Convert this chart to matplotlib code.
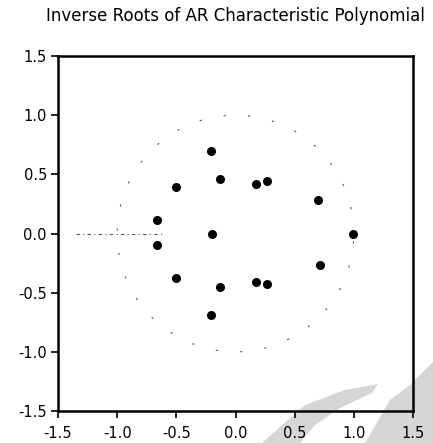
import numpy as np
import matplotlib.pyplot as plt
from matplotlib.patches import Polygon

# inverse AR roots (real, imaginary)
root_re = [-0.21, -0.21, -0.50, -0.50, -0.66, -0.66, -0.13, -0.13,
           0.17, 0.17, 0.27, 0.27, 0.70, 0.71, -0.20, 0.99]
root_im = [0.70, -0.69, 0.39, -0.38, 0.11, -0.10, 0.46, -0.45,
           0.42, -0.41, 0.44, -0.43, 0.28, -0.27, 0.00, 0.00]

ticks = [-1.5, -1.0, -0.5, 0.0, 0.5, 1.0, 1.5]
tick_labels = ['-1.5', '-1.0', '-0.5', '0.0', '0.5', '1.0', '1.5']

# leftover piece of the real axis guide
guide_x = [-1.35, -0.62]
guide_y = [0.0, 0.0]

plt.rcParams['font.family'] = ['DejaVu Sans']

fig = plt.figure(figsize=(4.33, 4.43), dpi=100)

# grey smudges in the lower right corner (figure pixels, y from top)
W, H = 433.0, 443.0
smudges = [
    [(262, 443), (305, 405), (345, 390), (378, 384), (372, 393),
     (340, 408), (315, 425), (300, 443)],
    [(365, 443), (390, 400), (410, 385), (433, 362), (433, 443)],
]
for pts in smudges:
    fig.patches.append(Polygon([(x / W, 1 - y / H) for x, y in pts],
                               closed=True, transform=fig.transFigure,
                               facecolor='#d6d6d6', edgecolor='none', zorder=-5))

ax = fig.add_axes([58 / W, 1 - 411 / H, 355 / W, 355 / H])
ax.set_facecolor('none')

# unit circle, only faintly visible
theta = np.linspace(0, 2 * np.pi, 400)
ax.plot(np.cos(theta), np.sin(theta), color='#555555', lw=0.8,
        linestyle=(0, (2, 20)))
ax.plot(guide_x, guide_y, color='#555555', lw=0.8, linestyle=(0, (3, 3, 1, 3)))

ax.plot(root_re, root_im, 'o', color='black', markersize=6.5, markeredgewidth=0)

ax.set_xlim(-1.5, 1.5)
ax.set_ylim(-1.5, 1.5)
ax.set_xticks(ticks)
ax.set_xticklabels(tick_labels)
ax.set_yticks(ticks)
ax.set_yticklabels(tick_labels)
ax.tick_params(direction='out', length=5, width=1.2, labelsize=10.5)
ax.tick_params(axis='x', pad=6)
ax.tick_params(axis='y', pad=3)
for sp in ax.spines.values():
    sp.set_linewidth(1.8)

fig.text(235.5 / W, 1 - 16 / H, 'Inverse Roots of AR Characteristic Polynomial',
         ha='center', va='center', fontsize=12)

fig.savefig('out.png', dpi=100)
